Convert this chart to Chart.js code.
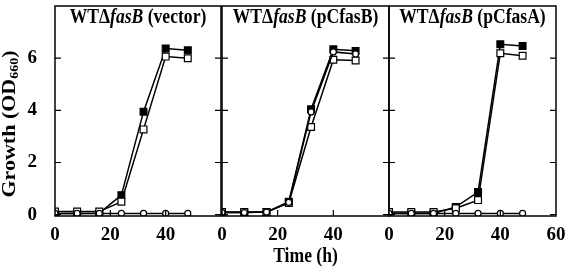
<!DOCTYPE html>
<html>
<head>
<meta charset="utf-8">
<script src="https://cdn.jsdelivr.net/npm/chart.js@4"></script>
<style>
  body { margin: 0; background: #fff; }
  #wrap { position: relative; width: 566px; height: 271px; overflow: hidden; }
  canvas { position: absolute; top: 0; }
</style>
</head>
<body>
<div id="wrap">
  <canvas id="c1" width="230" height="271" style="left:0px"></canvas>
  <canvas id="c2" width="186" height="271" style="left:212px"></canvas>
  <canvas id="c3" width="186" height="271" style="left:380px"></canvas>
</div>
<script>
// sampling times (h)
const hours = [0, 8, 16, 24, 32, 40, 48];

// WTΔfasB (vector)
const vectorFilled = [0.05, 0.05, 0.06, 0.75, 3.95, 6.37, 6.3];
const vectorOpen = [0.12, 0.12, 0.12, 0.5, 3.27, 6.06, 6.0];
const vectorCircle = [0.05, 0.05, 0.05, 0.05, 0.05, 0.05, 0.05];

// WTΔfasB (pCfasB)
const pCfasBFilled = [0.08, 0.08, 0.1, 0.5, 4.04, 6.34, 6.28];
const pCfasBOpen = [0.1, 0.1, 0.1, 0.45, 3.36, 5.94, 5.91];
const pCfasBCircle = [0.08, 0.08, 0.1, 0.47, 3.94, 6.24, 6.16];

// WTΔfasB (pCfasA)
const pCfasAFilled = [0.05, 0.05, 0.05, 0.3, 0.87, 6.53, 6.47];
const pCfasAOpen = [0.1, 0.1, 0.1, 0.25, 0.56, 6.19, 6.09];
const pCfasACircle = [0.05, 0.05, 0.05, 0.05, 0.05, 0.05, 0.05];

const xTicks = [0, 20, 40, 60];
const yTicks = [0, 2, 4, 6];

const FONT = "'Liberation Serif', 'DejaVu Serif', serif";
const SQUEEZE = 0.88; // the original lettering is a bit narrow

function points(ys) {
  return hours.map(function (h, i) { return { x: h, y: ys[i] }; });
}

function dataset(ys, style) {
  let ds = {
    data: points(ys),
    borderColor: "#000",
    borderWidth: 1.5,
    pointBorderWidth: 1.2,
    pointBorderColor: "#000",
    pointHoverRadius: 0,
  };
  if (style === "circle") {
    ds.pointStyle = "circle";
    ds.pointRadius = 3;
    ds.pointBackgroundColor = "#fff";
  } else if (style === "open") {
    ds.pointStyle = "rect";
    ds.pointRadius = 4.8;
    ds.pointBackgroundColor = "#fff";
  } else {
    ds.pointStyle = "rect";
    ds.pointRadius = 4.8;
    ds.pointBackgroundColor = "#000";
  }
  return ds;
}

// draws runs of [font, text, dy] centred on (cx, cy), squeezed across
function drawRuns(ctx, runs, cx, cy) {
  let total = 0;
  runs.forEach(function (r) { ctx.font = r[0]; total += ctx.measureText(r[1]).width; });
  let x = -total / 2;
  ctx.save();
  ctx.translate(cx, cy);
  ctx.scale(SQUEEZE, 1);
  ctx.fillStyle = "#000";
  ctx.textBaseline = "middle";
  ctx.textAlign = "left";
  runs.forEach(function (r) {
    ctx.font = r[0];
    ctx.fillText(r[1], x, r[2] || 0);
    x += ctx.measureText(r[1]).width;
  });
  ctx.restore();
}

// frame, inward tick marks and the texts
const framePlugin = {
  id: "frame",
  afterDraw(chart, args, opts) {
    const ctx = chart.ctx;
    const a = chart.chartArea;
    const xs = chart.scales.x;
    const ys = chart.scales.y;
    ctx.save();
    ctx.strokeStyle = "#000";
    ctx.lineWidth = 1.5;
    ctx.strokeRect(a.left, a.top, a.right - a.left, a.bottom - a.top);
    ctx.lineWidth = 1.2;
    ctx.beginPath();
    yTicks.forEach(function (v) {
      const py = ys.getPixelForValue(v);
      ctx.moveTo(a.left, py); ctx.lineTo(a.left + 6, py);
      ctx.moveTo(a.right, py); ctx.lineTo(a.right - 6, py);
    });
    [20, 40].forEach(function (v) {
      const px = xs.getPixelForValue(v);
      ctx.moveTo(px, a.bottom); ctx.lineTo(px, a.bottom - 6);
    });
    ctx.stroke();
    ctx.restore();

    const big = "bold 20px " + FONT;
    drawRuns(ctx, [
      [big, "WTΔ"],
      ["italic bold 20px " + FONT, "fasB"],
      [big, " " + opts.label],
    ], (a.left + a.right) / 2, 18);

    if (opts.xTitle) {
      drawRuns(ctx, [[big, opts.xTitle]], (a.left + a.right) / 2, 257);
    }

    if (opts.yTitle) {
      ctx.save();
      ctx.translate(10, 124);
      ctx.rotate(-Math.PI / 2);
      // rotated: squeeze applies across the letters, so swap scale axis
      ctx.scale(1, SQUEEZE);
      const f = "bold 22px " + FONT;
      const s = "bold 14px " + FONT;
      let total = 0;
      const runs = [[f, "Growth (OD", 0], [s, "660", 6], [f, ")", 0]];
      runs.forEach(function (r) { ctx.font = r[0]; total += ctx.measureText(r[1]).width; });
      let x = -total / 2;
      ctx.fillStyle = "#000";
      ctx.textBaseline = "middle";
      runs.forEach(function (r) {
        ctx.font = r[0];
        ctx.fillText(r[1], x, r[2]);
        x += ctx.measureText(r[1]).width;
      });
      ctx.restore();
    }
  },
};

function noPadding(s) {
  s.paddingTop = 0;
  s.paddingBottom = 0;
  s.paddingLeft = 0;
  s.paddingRight = 0;
}

function makeChart(id, filled, open, circle, label, first, last, pad) {
  return new Chart(document.getElementById(id), {
    type: "line",
    data: {
      datasets: [
        dataset(circle, "circle"),
        dataset(open, "open"),
        dataset(filled, "filled"),
      ],
    },
    options: {
      responsive: false,
      animation: false,
      events: [],
      layout: { padding: { left: pad[0], right: pad[1], top: 1, bottom: 0 } },
      plugins: {
        legend: { display: false },
        tooltip: { enabled: false },
        frame: { label: label, yTitle: first, xTitle: id === "c2" ? "Time (h)" : "" },
      },
      scales: {
        x: {
          type: "linear",
          min: 0,
          max: 60,
          grid: { display: false },
          border: { display: false },
          afterBuildTicks: function (s) { s.ticks = xTicks.map(function (v) { return { value: v }; }); },
          afterFit: function (s) { s.height = 55; noPadding(s); },
          ticks: {
            padding: 0,
            maxRotation: 0,
            color: "#000",
            font: { family: FONT, size: 19, weight: "bold" },
            callback: function (v) { return (v === 60 && !last) ? "" : String(v); },
          },
        },
        y: {
          display: first,
          min: -0.05,
          max: 8,
          grid: { display: false },
          border: { display: false },
          afterBuildTicks: function (s) { s.ticks = yTicks.map(function (v) { return { value: v }; }); },
          afterFit: function (s) { s.width = first ? 55 : 0; noPadding(s); },
          ticks: {
            padding: 10,
            color: "#000",
            font: { family: FONT, size: 19, weight: "bold" },
          },
        },
      },
    },
    plugins: [framePlugin],
  });
}

makeChart("c1", vectorFilled, vectorOpen, vectorCircle, "(vector)", true, false, [0, 9]);
makeChart("c2", pCfasBFilled, pCfasBOpen, pCfasBCircle, "(pCfasB)", false, false, [10, 9]);
makeChart("c3", pCfasAFilled, pCfasAOpen, pCfasACircle, "(pCfasA)", false, true, [9, 10]);
</script>
</body>
</html>
